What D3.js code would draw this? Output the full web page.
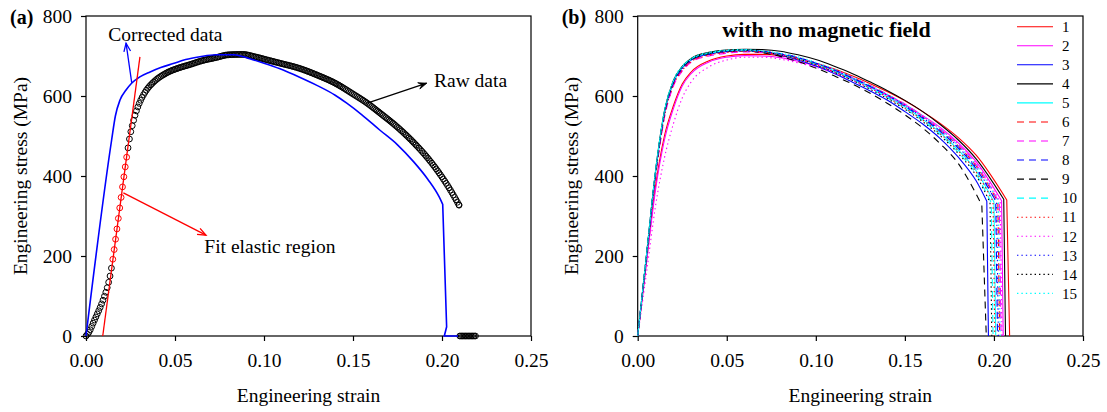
<!DOCTYPE html>
<html>
<head>
<meta charset="utf-8">
<script src="https://cdn.jsdelivr.net/npm/d3@7"></script>
<style>
  body { margin: 0; background: #fff; }
  text { font-family: "Liberation Serif", "Times New Roman", serif; fill: #000; }
</style>
</head>
<body>
<svg id="chart" width="1107" height="412"></svg>
<script>
// ---------- shared axes ----------
const strainTicks = [0, 0.05, 0.10, 0.15, 0.20, 0.25];
const stressTicks = [0, 200, 400, 600, 800];

// ---------- panel (a): tensile record ----------
// corrected (compliance-removed) curve, up to the fracture point
const correctedStrain = [0, 0.0144, 0.0165, 0.0191, 0.0225, 0.0256, 0.030, 0.036, 0.042, 0.049, 0.056, 0.064, 0.073, 0.083, 0.092, 0.100, 0.109, 0.120, 0.130, 0.140, 0.1465, 0.155, 0.165, 0.175, 0.184, 0.192, 0.1985, 0.2004];
const correctedStress = [0, 490, 550, 590, 615, 632, 647, 660, 671, 681, 691, 698, 703, 703, 693, 682, 668, 647, 626, 602, 582, 553, 515, 478, 436, 392, 347, 329];
// load drop after fracture
const correctedDropStrain = [0.2004, 0.2026, 0.2013, 0.2090];
const correctedDropStress = [329, 23, 0, 0];

// raw extensometer record
const rawStrain = [0, 0.002, 0.004, 0.006, 0.008, 0.010, 0.012, 0.0135, 0.015, 0.017, 0.019, 0.021, 0.023, 0.0247, 0.0265, 0.0285, 0.031, 0.034, 0.038, 0.045, 0.052, 0.058, 0.065, 0.073, 0.080, 0.088, 0.095, 0.102, 0.109, 0.120, 0.130, 0.140, 0.150, 0.158, 0.165, 0.175, 0.184, 0.191, 0.198, 0.204, 0.2096];
const rawStress = [0, 12, 32, 52, 72, 95, 122, 150, 190, 255, 322, 389, 452, 500, 535, 565, 592, 615, 635, 657, 670, 678, 688, 696, 703, 704, 698, 690, 682, 669, 652, 632, 605, 582, 558, 522, 484, 450, 410, 370, 327];
// samples logged after the specimen broke
const rawTailStrain = [0.2100, 0.2108, 0.2116, 0.2124, 0.2132, 0.2140, 0.2148, 0.2156, 0.2164, 0.2172, 0.2180, 0.2188];
const rawTailStress = [0, 0, 0, 0, 0, 0, 0, 0, 0, 0, 0, 0];
const rawLogInterval = 0.00077;          // strain between logged samples
const fitWindow = [0.0145, 0.0235];       // samples used for the elastic fit
const fitStrain = [0.0094, 0.0303];
const fitStress = [0, 698];

// ---------- panel (b): 15 specimens, no magnetic field ----------
const gridStrain = [0, 0.005, 0.010, 0.015, 0.020, 0.025, 0.030, 0.040, 0.050, 0.060, 0.070, 0.080, 0.090, 0.100, 0.110, 0.120, 0.130, 0.140, 0.150, 0.160, 0.170, 0.180, 0.190];
const specimenIds = ["1", "2", "3", "4", "5", "6", "7", "8", "9", "10", "11", "12", "13", "14", "15"];
const s1  = [0, 190, 375, 500, 575, 630, 660, 688, 700, 704, 704, 701, 693, 682, 668, 651, 632, 611, 588, 561, 531, 496, 452];
const s2  = [0, 185, 365, 490, 568, 625, 656, 685, 697, 701, 700, 696, 687, 675, 661, 644, 624, 603, 579, 551, 521, 483, 436];
const s3  = [0, 203, 408, 558, 634, 671, 690, 705, 711, 713, 710, 702, 690, 675, 657, 636, 614, 590, 561, 530, 493, 447, 388];
const s4  = [0, 205, 412, 562, 638, 674, 694, 709, 715, 717, 716, 712, 703, 691, 675, 657, 636, 614, 589, 561, 528, 490, 443];
const s5  = [0, 204, 410, 560, 636, 672, 692, 707, 713, 715, 712, 705, 695, 681, 664, 644, 623, 599, 573, 542, 508, 465, 413];
const s6  = [0, 198, 400, 550, 628, 666, 687, 703, 710, 713, 711, 705, 696, 682, 666, 647, 627, 604, 578, 548, 515, 475, 425];
const s7  = [0, 195, 395, 545, 624, 662, 684, 700, 707, 710, 709, 704, 694, 681, 666, 647, 627, 604, 580, 550, 517, 479, 429];
const s8  = [0, 202, 406, 556, 632, 669, 690, 705, 712, 714, 712, 706, 696, 682, 666, 646, 625, 602, 575, 545, 511, 470, 418];
const s9  = [0, 203, 408, 558, 636, 672, 691, 706, 712, 713, 708, 699, 686, 670, 651, 631, 608, 582, 553, 520, 480, 431, 355];
const s10 = [0, 205, 411, 561, 637, 673, 693, 707, 713, 714, 711, 704, 693, 679, 661, 642, 620, 596, 569, 538, 503, 459, 405];
const s11 = [0, 197, 398, 548, 626, 664, 686, 702, 709, 712, 710, 703, 692, 678, 661, 641, 621, 597, 570, 540, 505, 463, 410];
const s12 = [0, 160, 325, 445, 530, 595, 635, 673, 690, 697, 697, 692, 683, 672, 658, 640, 621, 600, 576, 548, 517, 479, 432];
const s13 = [0, 201, 404, 554, 631, 668, 689, 704, 711, 713, 711, 705, 696, 682, 665, 646, 625, 602, 576, 546, 512, 472, 421];
const s14 = [0, 204, 410, 560, 636, 672, 692, 707, 713, 715, 711, 703, 693, 678, 660, 640, 618, 594, 567, 536, 500, 456, 401];
const s15 = [0, 206, 413, 563, 639, 675, 694, 709, 715, 716, 713, 707, 698, 684, 668, 649, 628, 605, 579, 550, 517, 476, 427];
const specimenStress = [s1, s2, s3, s4, s5, s6, s7, s8, s9, s10, s11, s12, s13, s14, s15];
const fractureStrain   = [0.2072, 0.2043, 0.1960, 0.2055, 0.2000, 0.2022, 0.2030, 0.2010, 0.1932, 0.1985, 0.1995, 0.2035, 0.2015, 0.1978, 0.2025];
const fractureStress   = [340, 338, 337, 342, 335, 336, 334, 338, 327, 333, 336, 335, 333, 334, 337];
const separationStrain = [0.2088, 0.2052, 0.1969, 0.2065, 0.2010, 0.2032, 0.2040, 0.2020, 0.1957, 0.1995, 0.2005, 0.2045, 0.2025, 0.1988, 0.2035];

// line styles per specimen
const specimenColors = ["#ff0000", "#ff00ff", "#0000ff", "#000000", "#00ffff",
                        "#ff0000", "#ff00ff", "#0000ff", "#000000", "#00ffff",
                        "#ff0000", "#ff00ff", "#0000ff", "#000000", "#00ffff"];
const specimenDash = ["none", "none", "none", "none", "none",
                      "7,5", "7,5", "7,5", "7,5", "7,5",
                      "1.4,3", "1.4,3", "1.4,3", "1.4,3", "1.4,3"];

// ---------- layout ----------
const svg = d3.select("#chart");
const FONT = 19.5;
const plotTop = 16, plotBottom = 336;
const panelA = { left: 86, right: 531 };
const panelB = { left: 637.7, right: 1083 };

function makeScales(p) {
  return {
    x: d3.scaleLinear().domain([0, 0.25]).range([p.left, p.right]),
    y: d3.scaleLinear().domain([0, 800]).range([plotBottom, plotTop])
  };
}

function drawFrame(g, sc, p, tag) {
  const xAxis = d3.axisBottom(sc.x).tickValues(strainTicks).tickFormat(d3.format(".2f"))
    .tickSizeInner(5).tickSizeOuter(0).tickPadding(12);
  const yAxis = d3.axisLeft(sc.y).tickValues(stressTicks).tickFormat(d3.format("d"))
    .tickSizeInner(5).tickSizeOuter(0).tickPadding(9);
  const gx = g.append("g").attr("transform", `translate(0,${plotBottom})`).call(xAxis);
  const gy = g.append("g").attr("transform", `translate(${p.left},0)`).call(yAxis);
  [gx, gy].forEach(a => {
    a.select(".domain").remove();
    a.selectAll("line").attr("stroke", "#000").attr("stroke-width", 1.2);
    a.selectAll("text").attr("font-size", FONT).attr("font-family", "Liberation Serif, serif").attr("fill", "#000");
  });
  g.append("rect")
    .attr("x", p.left).attr("y", plotTop)
    .attr("width", p.right - p.left).attr("height", plotBottom - plotTop)
    .attr("fill", "none").attr("stroke", "#000").attr("stroke-width", 1.2);
  g.append("text")
    .attr("x", (p.left + p.right) / 2).attr("y", 402)
    .attr("text-anchor", "middle").attr("font-size", FONT)
    .text("Engineering strain");
  g.append("text")
    .attr("transform", `translate(${p.left - 59.5},${(plotTop + plotBottom) / 2}) rotate(-90)`)
    .attr("text-anchor", "middle").attr("font-size", FONT)
    .text("Engineering stress (MPa)");
  g.append("text")
    .attr("x", p.left - 76).attr("y", 24)
    .attr("font-size", 20).attr("font-weight", "bold")
    .text(tag);
}

function arrow(g, x1, y1, x2, y2, color, filled) {
  const ang = Math.atan2(y2 - y1, x2 - x1);
  const len = 9, half = 0.38;
  const p1 = [x2 - len * Math.cos(ang - half), y2 - len * Math.sin(ang - half)];
  const p2 = [x2 - len * Math.cos(ang + half), y2 - len * Math.sin(ang + half)];
  g.append("line").attr("x1", x1).attr("y1", y1).attr("x2", x2).attr("y2", y2)
    .attr("stroke", color).attr("stroke-width", 1.3);
  if (filled) {
    g.append("path").attr("d", `M${x2},${y2}L${p1[0]},${p1[1]}L${x2 - 5 * Math.cos(ang)},${y2 - 5 * Math.sin(ang)}L${p2[0]},${p2[1]}Z`)
      .attr("fill", color).attr("stroke", color).attr("stroke-width", 0.8);
  } else {
    g.append("path").attr("d", `M${p1[0]},${p1[1]}L${x2},${y2}L${p2[0]},${p2[1]}`)
      .attr("fill", "none").attr("stroke", color).attr("stroke-width", 1.3);
  }
}

// ================= panel (a) =================
const gA = svg.append("g");
const A = makeScales(panelA);
drawFrame(gA, A, panelA, "(a)");

const smoothA = d3.line().x(d => A.x(d[0])).y(d => A.y(d[1])).curve(d3.curveMonotoneX);
const straightA = d3.line().x(d => A.x(d[0])).y(d => A.y(d[1]));

// raw record: hollow markers at every logged sample along the record
const rawPts = rawStrain.map((s, i) => [s, rawStress[i]]);
const rawGuide = gA.append("path").attr("d", smoothA(rawPts)).attr("fill", "none").attr("stroke", "none");
const guideNode = rawGuide.node();
const guideLen = guideNode.getTotalLength();
const stepPx = A.x(rawLogInterval) - A.x(0);
const samples = [];
let nextX = A.x(0);
for (let l = 0; l <= guideLen; l += 0.2) {
  const p = guideNode.getPointAtLength(l);
  if (p.x >= nextX - 1e-6) { samples.push([p.x, p.y]); nextX = p.x + stepPx; }
}
const endPt = guideNode.getPointAtLength(guideLen);
samples.push([endPt.x, endPt.y]);
rawTailStrain.forEach((s, i) => samples.push([A.x(s), A.y(rawTailStress[i])]));

gA.append("g").selectAll("circle").data(samples).join("circle")
  .attr("cx", d => d[0]).attr("cy", d => d[1]).attr("r", 2.9)
  .attr("fill", "none").attr("stroke-width", 1)
  .attr("stroke", d => {
    const s = A.x.invert(d[0]);
    return (s >= fitWindow[0] && s <= fitWindow[1]) ? "#ff0000" : "#000";
  });

// corrected curve
const corrPts = correctedStrain.map((s, i) => [s, correctedStress[i]]);
const dropPts = correctedDropStrain.map((s, i) => [s, correctedDropStress[i]]);
gA.append("path").attr("d", smoothA(corrPts) + straightA(dropPts).replace(/^M/, "L"))
  .attr("fill", "none").attr("stroke", "#0000ff").attr("stroke-width", 1.6);

// elastic fit line
gA.append("path").attr("d", straightA(fitStrain.map((s, i) => [s, fitStress[i]])))
  .attr("fill", "none").attr("stroke", "#ff0000").attr("stroke-width", 1.3);

// annotations
arrow(gA, A.x(0.0257), A.y(633), A.x(0.0225), A.y(732), "#0000ff", false);
gA.append("text").attr("x", A.x(0.0125)).attr("y", A.y(738)).attr("font-size", FONT).text("Corrected data");
arrow(gA, A.x(0.021), A.y(358), A.x(0.0674), A.y(252), "#ff0000", false);
gA.append("text").attr("x", A.x(0.0665)).attr("y", A.y(208)).attr("font-size", FONT).text("Fit elastic region");
arrow(gA, A.x(0.158), A.y(582), A.x(0.1914), A.y(632), "#000", true);
gA.append("text").attr("x", A.x(0.1955)).attr("y", A.y(623)).attr("font-size", FONT).text("Raw data");

// ================= panel (b) =================
const gB = svg.append("g");
const B = makeScales(panelB);
drawFrame(gB, B, panelB, "(b)");

const smoothB = d3.line().x(d => B.x(d[0])).y(d => B.y(d[1])).curve(d3.curveMonotoneX);

specimenIds.forEach((id, k) => {
  const pts = gridStrain.map((s, i) => [s, specimenStress[k][i]]);
  pts.push([fractureStrain[k], fractureStress[k]]);
  const d = smoothB(pts) + `L${B.x(separationStrain[k])},${B.y(0)}`;
  gB.append("path").attr("d", d)
    .attr("fill", "none").attr("stroke", specimenColors[k]).attr("stroke-width", 1.1)
    .attr("stroke-dasharray", specimenDash[k]);
});

gB.append("text")
  .attr("x", B.x(0.106)).attr("y", B.y(747.5))
  .attr("text-anchor", "middle").attr("font-size", 22).attr("font-weight", "bold")
  .text("with no magnetic field");

// legend
const legend = gB.append("g");
specimenIds.forEach((id, k) => {
  const yy = 26.7 + k * 19.05;
  legend.append("line").attr("x1", 1017).attr("x2", 1053).attr("y1", yy).attr("y2", yy)
    .attr("stroke", specimenColors[k]).attr("stroke-width", 1.1)
    .attr("stroke-dasharray", specimenDash[k]);
  legend.append("text").attr("x", 1062).attr("y", yy).attr("dy", "0.35em")
    .attr("font-size", 15).text(id);
});
</script>
</body>
</html>
